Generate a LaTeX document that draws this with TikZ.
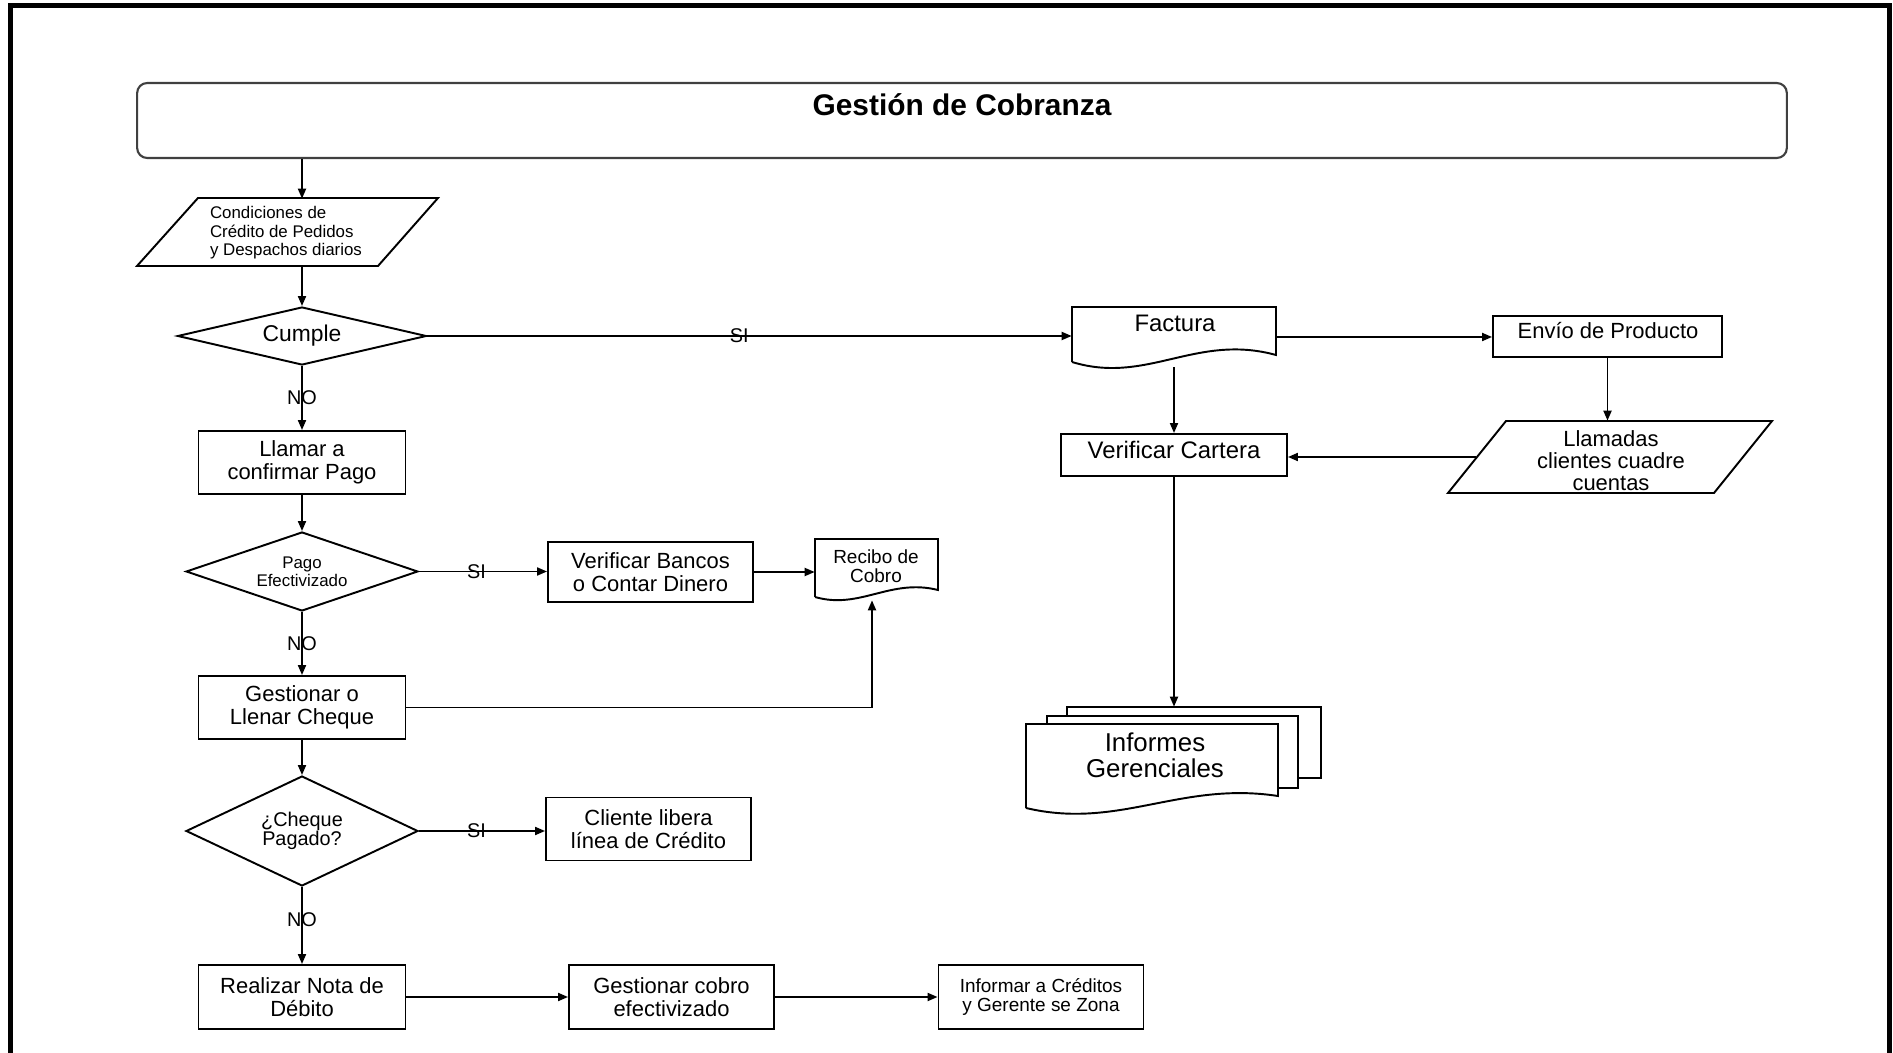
\documentclass[tikz,border=0pt]{standalone}
\usepackage{fontspec}
\setmainfont{Liberation Sans}
\usetikzlibrary{shapes.geometric,arrows.meta,calc}
\tikzset{
 conn/.style={line width=1.1pt, draw=black},
 arr/.style={conn, -{Triangle[length=0.2cm,width=0.16cm]}},
 proc/.style={draw, line width=1.1pt, rectangle, inner sep=0pt, align=center, fill=white},
 dec/.style={draw, line width=1.1pt, diamond, inner sep=0pt, align=center},
 ghost/.style={draw=none, inner sep=0pt, rectangle},
 lbl/.style={inner sep=0pt, font=\fontsize{11.3}{12}\selectfont},
 shapeline/.style={line width=1.1pt, draw=black, fill=white},
 fstd/.style={font=\fontsize{12.5}{13}\selectfont},
}
\begin{document}
\begin{tikzpicture}[x=0.02cm,y=-0.02cm]
\useasboundingbox (0,0) rectangle (1893,1053);
\fill[white] (0,0) rectangle (1893,1053);
\draw[line width=2.83pt] (10.5,1053) -- (10.5,5.5) -- (1889.5,5.5) -- (1889.5,1053);

% title
\node[draw=black!75, line width=1.2pt, rounded corners=0.2cm, minimum width=33cm, minimum height=1.5cm, inner sep=0pt] (title) at (962,120.5) {};
\node[font=\fontsize{17}{20}\selectfont\bfseries, inner sep=0pt] (titletext) at (962,105) {Gestión de Cobranza};

% condiciones (parallelogram)
\draw[shapeline] (198,198) -- (438,198) -- (378,266) -- (137,266) -- cycle;
\node[ghost, align=left, minimum height=1.36cm, font=\fontsize{9.6}{10.5}\selectfont] (cond) at (286,233) {Condiciones de\\Crédito de Pedidos\\y Despachos diarios};

% left column
\node[dec, aspect=4.3, minimum width=4.98cm, minimum height=1.16cm, font=\fontsize{13}{15}\selectfont] (cumple) at (302,336) {Cumple};
\node[proc, fstd, minimum width=4.14cm, minimum height=1.26cm] (llamar) at (302,462.5) {Llamar a\\confirmar Pago};
\node[dec, aspect=2.94, minimum width=4.64cm, minimum height=1.58cm, font=\fontsize{9.6}{10.2}\selectfont] (pago) at (302,571.5) {Pago\\Efectivizado};
\node[proc, fstd, minimum width=4.14cm, minimum height=1.26cm] (gestionar) at (302,707.5) {Gestionar o\\Llenar Cheque};
\node[dec, aspect=2.11, minimum width=4.64cm, minimum height=2.2cm, font=\fontsize{11.3}{10.8}\selectfont] (cheque) at (302,831) {¿Cheque\\Pagado?};
\node[proc, fstd, minimum width=4.14cm, minimum height=1.28cm] (realizar) at (302,997) {Realizar Nota de\\Débito};

% middle column
\node[proc, fstd, minimum width=4.1cm, minimum height=1.2cm] (bancos) at (650.5,572) {Verificar Bancos\\o Contar Dinero};
\node[proc, fstd, minimum width=4.1cm, minimum height=1.26cm] (cliente) at (648.5,829) {Cliente libera\\línea de Crédito};
\node[proc, fstd, minimum width=4.1cm, minimum height=1.28cm] (cobro) at (671.5,997) {Gestionar cobro\\efectivizado};
\node[proc, minimum width=4.1cm, minimum height=1.28cm, font=\fontsize{10.8}{11.3}\selectfont] (informar) at (1041,997) {Informar a Créditos\\y Gerente se Zona};

% recibo (document)
\draw[shapeline] (815,597) -- (815,539) -- (938,539) -- (938,590) .. controls (890,578) and (860,610) .. (815,597);
\node[ghost, minimum width=2.46cm, minimum height=1.22cm] (recibo) at (876.5,569.5) {};
\node[inner sep=0pt, align=center, font=\fontsize{10.8}{10.8}\selectfont] (recibotext) at (876,566) {Recibo de\\Cobro};

% factura (document)
\draw[shapeline] (1072,362) -- (1072,307) -- (1276,307) -- (1276,355) .. controls (1196,333) and (1147,385) .. (1072,362);
\node[ghost, minimum width=4.08cm, minimum height=1.2cm] (factura) at (1174,337) {};
\node[inner sep=0pt, font=\fontsize{13.6}{15}\selectfont] (facturatext) at (1175,323) {Factura};

% envio
\node[proc, minimum width=4.58cm, minimum height=0.82cm] (envio) at (1607.5,336.5) {};
\node[inner sep=0pt, font=\fontsize{12.5}{13}\selectfont] (enviotext) at (1608,331) {Envío de Producto};

% llamadas (parallelogram)
\draw[shapeline] (1506,421) -- (1772,421) -- (1714,493) -- (1448,493) -- cycle;
\node[ghost, minimum width=5.36cm, minimum height=1.44cm] (llamadas) at (1610,457) {};
\node[inner sep=0pt, align=center, font=\fontsize{12.5}{12.5}\selectfont] (llamadastext) at (1611,461) {Llamadas\\clientes cuadre\\cuentas};

% verificar cartera
\node[proc, minimum width=4.52cm, minimum height=0.84cm] (verificar) at (1174,455) {};
\node[inner sep=0pt, font=\fontsize{13.6}{15}\selectfont] (verificartext) at (1174,450) {Verificar Cartera};

% informes gerenciales (multi document)
\draw[shapeline] (1067,707) rectangle (1321,778);
\draw[shapeline] (1047,716) rectangle (1298,788);
\draw[shapeline] (1026,808) -- (1026,724) -- (1278,724) -- (1278,796) .. controls (1180,781) and (1119,830) .. (1026,808);
\node[ghost, minimum width=5.08cm, minimum height=1.42cm] (informes) at (1194,742.5) {};
\node[inner sep=0pt, align=center, font=\fontsize{14.7}{14.7}\selectfont] (informestext) at (1155,755) {Informes\\Gerenciales};

% connectors
\draw[arr] (title.south -| cumple.north) -- (cond.north -| cumple.north);
\draw[arr] (cond.south -| cumple.north) -- (cumple.north);
\draw[arr] (cumple.south) -- (llamar.north) node[lbl, pos=0.5] {NO};
\draw[arr] (llamar.south) -- (pago.north);
\draw[arr] (pago.south) -- (gestionar.north) node[lbl, pos=0.5] {NO};
\draw[arr] (gestionar.south) -- (cheque.north);
\draw[arr] (cheque.south) -- (realizar.north) node[lbl, pos=0.43] {NO};

\draw[arr] (cumple.east) -- (cumple.east -| factura.west) node[lbl, pos=0.484] {SI};
\draw[arr] (pago.east) -- (pago.east -| bancos.west) node[lbl, pos=0.45] {SI};
\draw[arr] (cheque.east) -- (cheque.east -| cliente.west) node[lbl, pos=0.457] {SI};

\draw[arr] (bancos.east) -- (bancos.east -| recibo.west);
\draw[arr] (gestionar.east) -| ([xshift=-0.09cm]recibo.south);
\draw[arr] (realizar.east) -- (cobro.west);
\draw[arr] (cobro.east) -- (informar.west);

\draw[arr] (factura.east) -- (factura.east -| envio.west);
\draw[arr] (factura.south) -- (verificar.north);
\draw[arr] (envio.south) -- (envio.south |- llamadas.north);
\draw[arr] (llamadas.west) -- (llamadas.west -| verificar.east);
\draw[arr] (verificar.south) -- (verificar.south |- informes.north);
\end{tikzpicture}
\end{document}
